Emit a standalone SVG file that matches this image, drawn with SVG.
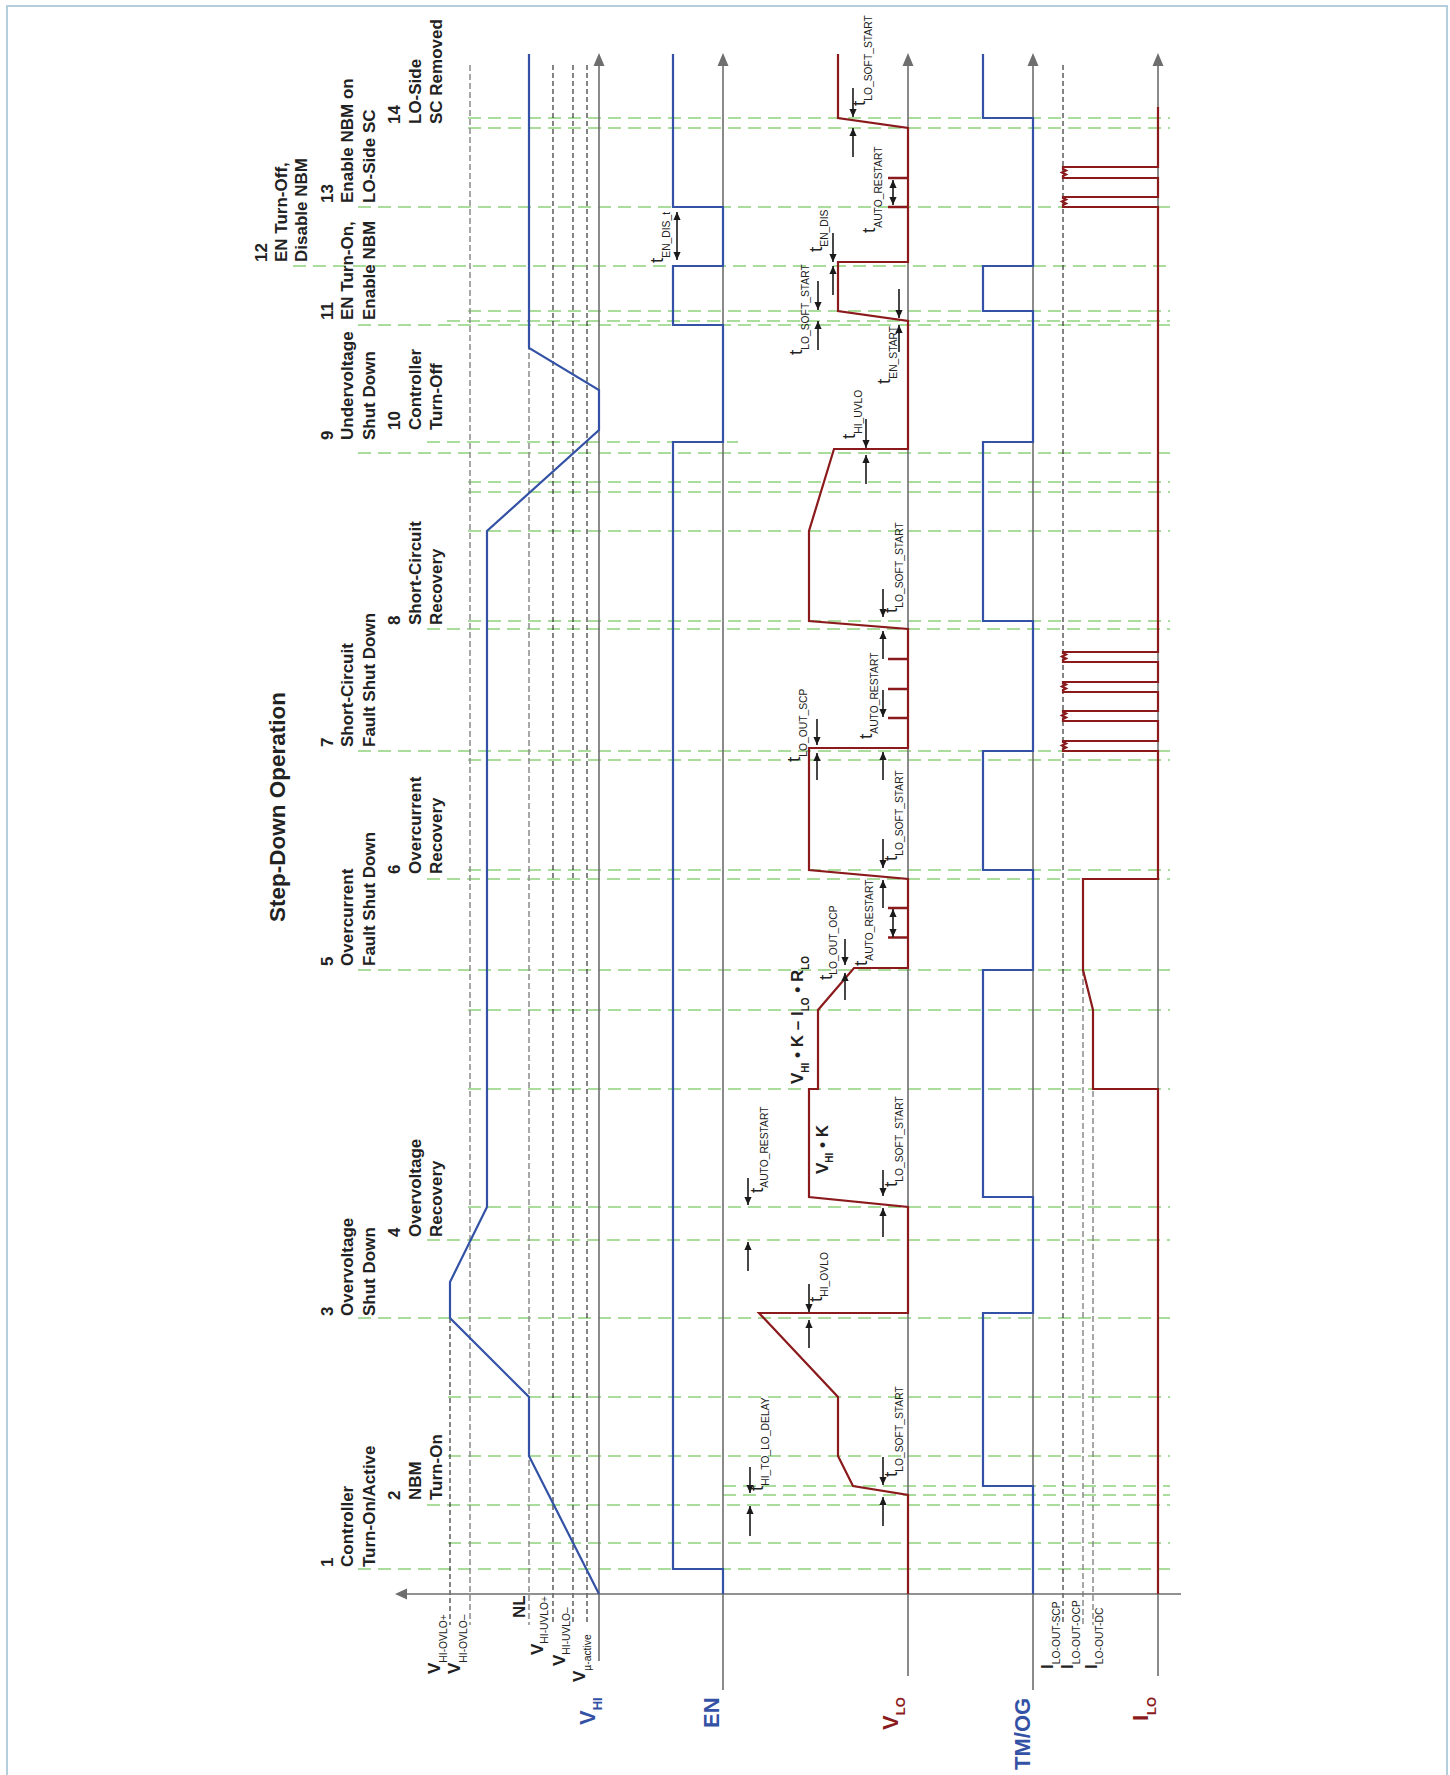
<svg xmlns="http://www.w3.org/2000/svg" width="1450" height="1775" viewBox="0 0 1450 1775">
<defs>
<marker id="ah" viewBox="0 0 10 10" refX="10" refY="5" markerWidth="8" markerHeight="8" markerUnits="userSpaceOnUse" orient="auto-start-reverse"><path d="M0,0.5 L10,5 L0,9.5 z" fill="#1a1a1a"/></marker>
<style>
text{font-family:"Liberation Sans",Arial,sans-serif;fill:#222}
.grid{stroke:#8fd17c;stroke-width:1.6;stroke-dasharray:13 7;fill:none}
.axis{stroke:#6e6e6e;stroke-width:1.6;fill:none}
.ah{fill:#6e6e6e}
.ref{stroke:#333;stroke-width:1.2;stroke-dasharray:5 3;fill:none}
.refg{stroke:#8a8a8a;stroke-width:1.5;stroke-dasharray:6 3;fill:none}
.blue{stroke:#3352a5;stroke-width:2.2;fill:none;stroke-linejoin:miter}
.red{stroke:#8b1a1c;stroke-width:2.2;fill:none}
.tick{stroke:#8b1a1c;stroke-width:2.6;fill:none}
.arr{stroke:#1a1a1a;stroke-width:1.6;fill:none;marker-end:url(#ah)}
.dbl{stroke:#1a1a1a;stroke-width:1.6;fill:none;marker-start:url(#ah);marker-end:url(#ah)}
.lbl{font-size:17px;font-weight:bold}
.ttl{font-size:22.5px;font-weight:bold}
.t{font-size:19px}
.sub{font-size:10.3px}
.vb{font-size:17px;font-weight:bold}
.vs{font-size:10.3px;font-weight:normal}
.sig{font-size:22px;font-weight:bold}
.sigs{font-size:13px;font-weight:bold}
.fb{font-size:17px;font-weight:bold}
.fs{font-size:10px;font-weight:bold}
</style>
</defs>
<rect x="0" y="0" width="1450" height="1775" fill="#fff"/>
<rect x="7" y="6" width="1440" height="1790" fill="none" stroke="#b5cedb" stroke-width="2"/>

<g id="title"><text class="ttl" text-anchor="middle" transform="translate(285,807) rotate(-90)">Step-Down Operation</text></g>

<g id="timelines">
<path class="grid" d="M468,118H1170M468,128H1170M358,207H1170M293,266H1170M468,311H1170M447,321H1170M358,325H1170M427,442H738M358,453H1170M468,482H1170M468,492H1170M468,531H1170M468,621H1170M427,629H1170M358,751H1170M468,760H1170M468,870H1170M427,879H1170M358,970H1170M468,1010H1170M468,1089H1170M468,1207H1170M427,1240H1170M358,1318H1170M448,1397H1170M448,1456H1170M723,1486H1170M723,1495H1170M427,1505H1170M448,1543H1170M358,1569H1170"/>
</g>

<g id="refs">
<path class="ref" d="M450,1318V1625M553,65V1625M573,65V1625M587,65V1625M1063,65V1625"/>
<path class="refg" d="M470,65V1625M529,65V1625M1083,970V1625M1093,1010V1625"/>
</g>

<g id="axes">
<path class="axis" d="M402,1594H1181M599,64V1661M723,64V1690M908,64V1676M1033,64V1690M1158,64V1676"/>
<polygon class="ah" points="395,1594 407,1588.5 407,1599.5"/>
<polygon class="ah" points="599,53 593.5,66 604.5,66"/>
<polygon class="ah" points="723,53 717.5,66 728.5,66"/>
<polygon class="ah" points="908,53 902.5,66 913.5,66"/>
<polygon class="ah" points="1033,53 1027.5,66 1038.5,66"/>
<polygon class="ah" points="1158,53 1152.5,66 1163.5,66"/>
</g>

<g id="VHI"><path class="blue" d="M599,1594L529,1456V1397L450,1318V1282L487,1207V531L599,430V390L529,348V54"/></g>
<g id="EN"><path class="blue" d="M723,1594V1569H673V442H723V325H673V266H723V207H673V54"/></g>
<g id="TMOG"><path class="blue" d="M1033,1594V1486H983V1313H1033V1197H983V970H1033V870H983V751H1033V621H983V442H1033V311H983V266H1033V118H983V54"/></g>
<g id="VLO">
<path class="red" d="M908,1594V1495L853,1486L838,1456V1397L759,1313H908V1207L809,1197V1089H818V1010L854,968H908V879L809,870V748H908V629L809,621V531L834,449H908V321L838,311V262H908V128L838,118V54"/>
<path class="tick" d="M888,937.5H908M888,908H908M888,718H908M888,689H908M888,659H908M888,207H908M888,178H908"/>
</g>
<g id="ILO"><path class="red" d="M1158,1594V1089H1093V1010L1083,970V879H1158V751H1063v-2l3,-1.5l-4,-2l4,-2l-3,-1.5V741H1158V721H1063v-2l3,-1.5l-4,-2l4,-2l-3,-1.5V711H1158V692H1063v-2l3,-1.5l-4,-2l4,-2l-3,-1.5V682H1158V662H1063v-2l3,-1.5l-4,-2l4,-2l-3,-1.5V652H1158V207H1063v-2l3,-1.5l-4,-2l4,-2l-3,-1.5V197H1158V178H1063v-2l3,-1.5l-4,-2l4,-2l-3,-1.5V167H1158V107"/></g>

<g id="connectors">
<path class="arr" d="M750,1467V1493"/><path class="arr" d="M750,1536V1506"/>
<path class="arr" d="M883,1457V1485"/><path class="arr" d="M883,1526V1497"/>
<path class="arr" d="M809,1284V1312"/><path class="arr" d="M809,1348V1320"/>
<path class="arr" d="M748,1271V1242"/><path class="arr" d="M748,1178V1205"/>
<path class="arr" d="M883,1237V1208"/><path class="arr" d="M883,1170V1196"/>
<path class="arr" d="M845,939V965"/><path class="arr" d="M845,1000V973"/>
<path class="arr" d="M883,908V880"/>
<path class="dbl" d="M893,909V937"/>
<path class="arr" d="M883,839V868"/>
<path class="arr" d="M883,780V752"/>
<path class="arr" d="M817,719V745"/><path class="arr" d="M817,780V753"/>
<path class="arr" d="M883,690V717"/>
<path class="arr" d="M883,659V631"/>
<path class="arr" d="M883,589V617"/>
<path class="arr" d="M853,88V117"/><path class="arr" d="M853,157V128"/>
<path class="dbl" d="M893,180V205"/>
<path class="arr" d="M833,233V262"/><path class="arr" d="M833,295V266"/>
<path class="arr" d="M818,281V310"/><path class="arr" d="M818,350V321"/>
<path class="arr" d="M899,289V318"/><path class="arr" d="M899,352V325"/>
<path class="arr" d="M866,419V448"/><path class="arr" d="M866,484V455"/>
<path class="dbl" d="M677,212V260"/>
</g>

<g id="timing-labels">
<text class="t" transform="translate(763,1491) rotate(-90)">t<tspan class="sub" dy="6">HI_TO_LO_DELAY</tspan></text>
<text class="t" transform="translate(897,1477) rotate(-90)">t<tspan class="sub" dy="6">LO_SOFT_START</tspan></text>
<text class="t" transform="translate(822,1302) rotate(-90)">t<tspan class="sub" dy="6">HI_OVLO</tspan></text>
<text class="t" transform="translate(763,1193) rotate(-90)">t<tspan class="sub" dy="5">AUTO_RESTART</tspan></text>
<text class="t" transform="translate(897,1187) rotate(-90)">t<tspan class="sub" dy="6">LO_SOFT_START</tspan></text>
<text class="t" transform="translate(832,980) rotate(-90)">t<tspan class="sub" dy="5">LO_OUT_OCP</tspan></text>
<text class="t" transform="translate(867,966) rotate(-90)">t<tspan class="sub" dy="6">AUTO_RESTART</tspan></text>
<text class="t" transform="translate(897,861) rotate(-90)">t<tspan class="sub" dy="6">LO_SOFT_START</tspan></text>
<text class="t" transform="translate(800,762) rotate(-90)">t<tspan class="sub" dy="7">LO_OUT_SCP</tspan></text>
<text class="t" transform="translate(872,739) rotate(-90)">t<tspan class="sub" dy="6">AUTO_RESTART</tspan></text>
<text class="t" transform="translate(897,613) rotate(-90)">t<tspan class="sub" dy="6">LO_SOFT_START</tspan></text>
<text class="t" transform="translate(855,439) rotate(-90)">t<tspan class="sub" dy="7">HI_UVLO</tspan></text>
<text class="t" transform="translate(890,384) rotate(-90)">t<tspan class="sub" dy="7">EN_START</tspan></text>
<text class="t" transform="translate(802,355) rotate(-90)">t<tspan class="sub" dy="7">LO_SOFT_START</tspan></text>
<text class="t" transform="translate(822,252) rotate(-90)">t<tspan class="sub" dy="6">EN_DIS</tspan></text>
<text class="t" transform="translate(875,233) rotate(-90)">t<tspan class="sub" dy="7">AUTO_RESTART</tspan></text>
<text class="t" transform="translate(865,106) rotate(-90)">t<tspan class="sub" dy="7">LO_SOFT_START</tspan></text>
<text class="t" transform="translate(663,263) rotate(-90)">t<tspan class="sub" dy="7">EN_DIS_t</tspan></text>
<text class="fb" transform="translate(828,1174) rotate(-90)">V<tspan class="fs" dy="5">HI</tspan><tspan dy="-5"> • K</tspan></text>
<text class="fb" transform="translate(803,1084) rotate(-90)">V<tspan class="fs" dy="6">HI</tspan><tspan dy="-6"> • K – I</tspan><tspan class="fs" dy="6">LO</tspan><tspan dy="-6"> • R</tspan><tspan class="fs" dy="6">LO</tspan></text>
</g>

<g id="value-labels">
<text class="vb" transform="translate(440,1674) rotate(-90)">V<tspan class="vs" dy="7">HI-OVLO+</tspan></text>
<text class="vb" transform="translate(460,1674) rotate(-90)">V<tspan class="vs" dy="7">HI-OVLO–</tspan></text>
<text class="vb" transform="translate(525,1618) rotate(-90)">NL</text>
<text class="vb" transform="translate(543,1655) rotate(-90)">V<tspan class="vs" dy="5">HI-UVLO+</tspan></text>
<text class="vb" transform="translate(565,1666) rotate(-90)">V<tspan class="vs" dy="5">HI-UVLO–</tspan></text>
<text class="vb" transform="translate(585,1682) rotate(-90)">V<tspan class="vs" dy="6">µ-active</tspan></text>
<text class="vb" transform="translate(1053,1669) rotate(-90)">I<tspan class="vs" dy="7">LO-OUT-SCP</tspan></text>
<text class="vb" transform="translate(1073,1669) rotate(-90)">I<tspan class="vs" dy="7">LO-OUT-OCP</tspan></text>
<text class="vb" transform="translate(1097,1669) rotate(-90)">I<tspan class="vs" dy="6">LO-OUT-DC</tspan></text>
</g>

<g id="signal-labels">
<text class="sig" style="fill:#3352a5" transform="translate(595,1725) rotate(-90)">V<tspan class="sigs" dy="7">HI</tspan></text>
<text class="sig" style="fill:#3352a5" transform="translate(719,1728) rotate(-90)">EN</text>
<text class="sig" style="fill:#8b1a1c" transform="translate(898,1730) rotate(-90)">V<tspan class="sigs" dy="7">LO</tspan></text>
<text class="sig" style="fill:#3352a5" transform="translate(1030,1770) rotate(-90)">TM/OG</text>
<text class="sig" style="fill:#8b1a1c" transform="translate(1148,1721) rotate(-90)">I<tspan class="sigs" dy="8">LO</tspan></text>
</g>

<g id="ev1" class="lbl"><text transform="translate(333,1567) rotate(-90)">1</text><text transform="translate(353,1567) rotate(-90)">Controller</text><text transform="translate(375,1567) rotate(-90)">Turn-On/Active</text></g>
<g id="ev2" class="lbl"><text transform="translate(400,1500) rotate(-90)">2</text><text transform="translate(421,1500) rotate(-90)">NBM</text><text transform="translate(442,1500) rotate(-90)">Turn-On</text></g>
<g id="ev3" class="lbl"><text transform="translate(333,1316) rotate(-90)">3</text><text transform="translate(353,1316) rotate(-90)">Overvoltage</text><text transform="translate(375,1316) rotate(-90)">Shut Down</text></g>
<g id="ev4" class="lbl"><text transform="translate(400,1237) rotate(-90)">4</text><text transform="translate(421,1237) rotate(-90)">Overvoltage</text><text transform="translate(442,1237) rotate(-90)">Recovery</text></g>
<g id="ev5" class="lbl"><text transform="translate(333,966) rotate(-90)">5</text><text transform="translate(353,966) rotate(-90)">Overcurrent</text><text transform="translate(375,966) rotate(-90)">Fault Shut Down</text></g>
<g id="ev6" class="lbl"><text transform="translate(400,874) rotate(-90)">6</text><text transform="translate(421,874) rotate(-90)">Overcurrent</text><text transform="translate(442,874) rotate(-90)">Recovery</text></g>
<g id="ev7" class="lbl"><text transform="translate(333,747) rotate(-90)">7</text><text transform="translate(353,747) rotate(-90)">Short-Circuit</text><text transform="translate(375,747) rotate(-90)">Fault Shut Down</text></g>
<g id="ev8" class="lbl"><text transform="translate(400,625) rotate(-90)">8</text><text transform="translate(421,625) rotate(-90)">Short-Circuit</text><text transform="translate(442,625) rotate(-90)">Recovery</text></g>
<g id="ev9" class="lbl"><text transform="translate(333,440) rotate(-90)">9</text><text transform="translate(353,440) rotate(-90)">Undervoltage</text><text transform="translate(375,440) rotate(-90)">Shut Down</text></g>
<g id="ev10" class="lbl"><text transform="translate(400,430) rotate(-90)">10</text><text transform="translate(421,430) rotate(-90)">Controller</text><text transform="translate(442,430) rotate(-90)">Turn-Off</text></g>
<g id="ev11" class="lbl"><text transform="translate(333,320) rotate(-90)">11</text><text transform="translate(353,320) rotate(-90)">EN Turn-On,</text><text transform="translate(375,320) rotate(-90)">Enable NBM</text></g>
<g id="ev12" class="lbl"><text transform="translate(267,262) rotate(-90)">12</text><text transform="translate(287,262) rotate(-90)">EN Turn-Off,</text><text transform="translate(307,262) rotate(-90)">Disable NBM</text></g>
<g id="ev13" class="lbl"><text transform="translate(333,203) rotate(-90)">13</text><text transform="translate(353,203) rotate(-90)">Enable NBM on</text><text transform="translate(375,203) rotate(-90)">LO-Side SC</text></g>
<g id="ev14" class="lbl"><text transform="translate(400,124) rotate(-90)">14</text><text transform="translate(421,124) rotate(-90)">LO-Side</text><text transform="translate(442,124) rotate(-90)">SC Removed</text></g>
</svg>
